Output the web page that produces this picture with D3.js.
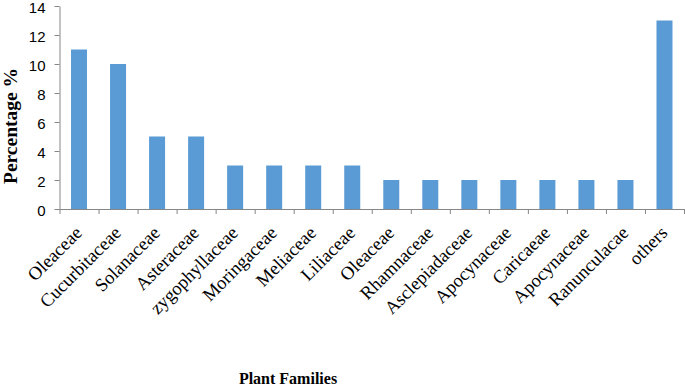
<!DOCTYPE html>
<html>
<head>
<meta charset="utf-8">
<script src="https://cdn.jsdelivr.net/npm/d3@7"></script>
<style>
  body { margin: 0; background: #fff; }
  svg { display: block; }
</style>
</head>
<body>
<div id="chart"></div>
<script>
// plant family percentages
const families = ["Oleaceae", "Cucurbitaceae", "Solanaceae", "Asteraceae", "zygophyllaceae",
  "Moringaceae", "Meliaceae", "Liliaceae", "Oleaceae", "Rhamnaceae", "Asclepiadaceae",
  "Apocynaceae", "Caricaeae", "Apocynaceae", "Ranunculacae", "others"];
const percentages = [11, 10, 5, 5, 3, 3, 3, 3, 2, 2, 2, 2, 2, 2, 2, 13];
const yTicks = [0, 2, 4, 6, 8, 10, 12, 14];

const width = 685, height = 386;
const margin = {top: 6, right: 1, bottom: 177, left: 59.5};
const axisColor = "#868686";

const svg = d3.select("#chart").append("svg")
  .attr("width", width)
  .attr("height", height);

// index scale keyed by position so the repeated names stay separate
const idx = families.map((d, i) => i);
const x = d3.scaleBand()
  .domain(idx)
  .range([margin.left, width - margin.right])
  .paddingInner(0.59)
  .paddingOuter(0.295);

const y = d3.scaleLinear()
  .domain([0, 14])
  .range([height - margin.bottom, margin.top]);

// bars
svg.append("g")
  .selectAll("rect")
  .data(percentages)
  .join("rect")
  .attr("x", (d, i) => x(i))
  .attr("y", d => y(d))
  .attr("width", x.bandwidth())
  .attr("height", d => y(0) - y(d))
  .attr("fill", "#5b9bd5");

// y axis
const yAxis = svg.append("g")
  .attr("transform", `translate(${margin.left},0)`)
  .call(d3.axisLeft(y).tickValues(yTicks).tickSize(5).tickPadding(9).tickSizeOuter(0));
yAxis.select(".domain").attr("stroke", axisColor);
yAxis.selectAll(".tick line").attr("stroke", axisColor);
yAxis.selectAll("text")
  .attr("font-family", "Liberation Sans, Arial, sans-serif")
  .attr("font-size", "15px")
  .attr("dy", "0.45em")
  .attr("fill", "#000");

// x axis: tick marks at category boundaries
const xEdge = d3.scaleLinear()
  .domain([0, families.length])
  .range([margin.left, width - margin.right]);
const xAxis = svg.append("g")
  .attr("transform", `translate(0,${y(0)})`)
  .call(d3.axisBottom(xEdge).ticks(families.length).tickSize(5).tickFormat("").tickSizeOuter(0));
xAxis.select(".domain").attr("stroke", axisColor);
xAxis.selectAll(".tick line").attr("stroke", axisColor);

// rotated category labels
svg.append("g")
  .selectAll("text")
  .data(families)
  .join("text")
  .attr("transform", (d, i) => `translate(${x(i) + x.bandwidth() / 2 + 4},${y(0) + 25}) rotate(-45)`)
  .attr("text-anchor", "end")
  .attr("font-family", "Liberation Serif, Times New Roman, serif")
  .attr("font-size", "18.5px")
  .attr("fill", "#000")
  .text(d => d);

// axis titles
svg.append("text")
  .attr("transform", "translate(17,126) rotate(-90)")
  .attr("text-anchor", "middle")
  .attr("font-family", "Liberation Serif, Times New Roman, serif")
  .attr("font-weight", "bold")
  .attr("font-size", "19.5px")
  .text("Percentage %");

svg.append("text")
  .attr("x", 288)
  .attr("y", 384)
  .attr("text-anchor", "middle")
  .attr("font-family", "Liberation Serif, Times New Roman, serif")
  .attr("font-weight", "bold")
  .attr("font-size", "16px")
  .text("Plant Families");
</script>
</body>
</html>
